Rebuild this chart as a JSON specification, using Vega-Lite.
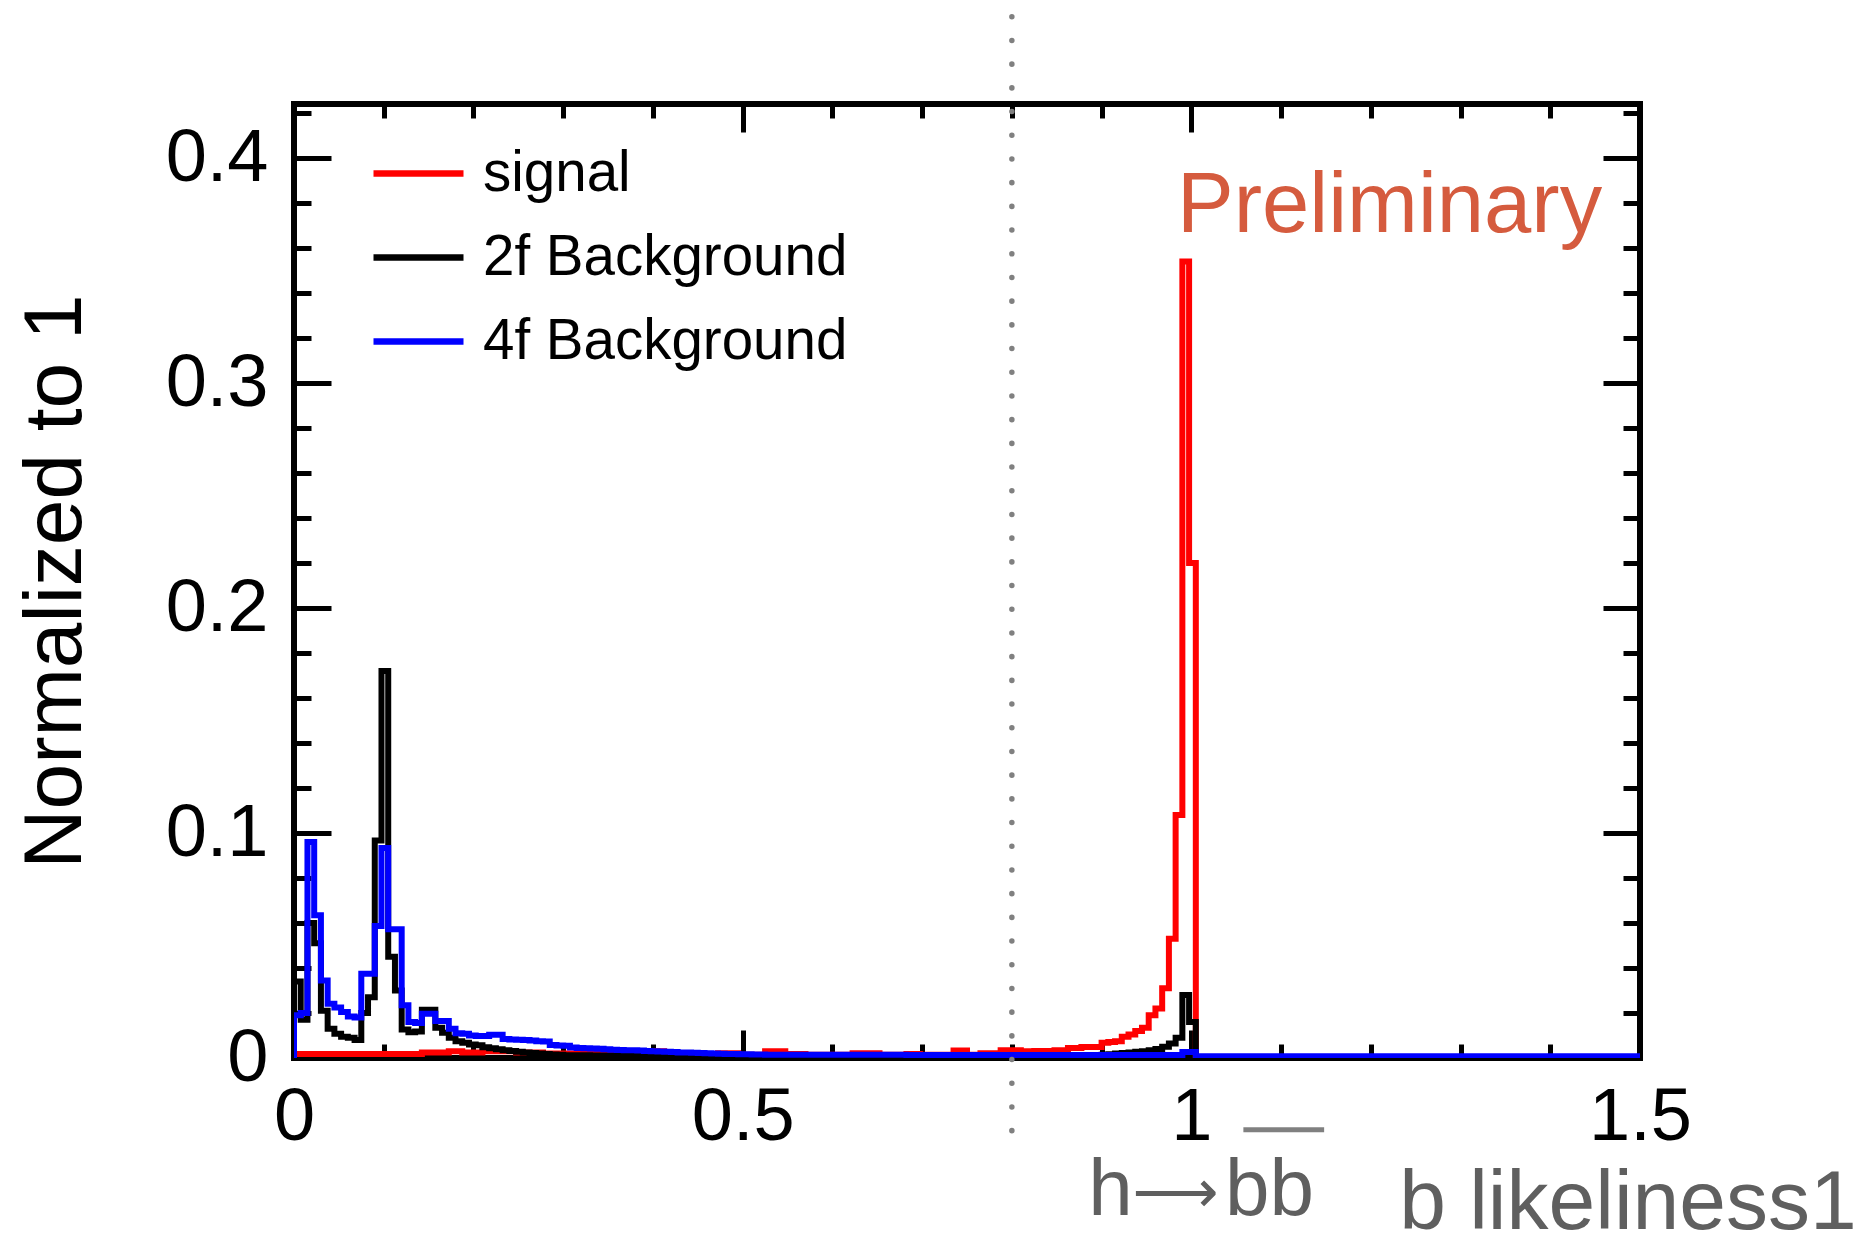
{
  "$schema": "https://vega.github.io/schema/vega-lite/v6.json",
  "width": 1346,
  "height": 954,
  "autosize": {"type": "none"},
  "padding": {"left": 294, "top": 104, "right": 219, "bottom": 190},
  "background": "white",
  "config": {
    "view": {"stroke": "black", "strokeWidth": 6},
    "font": "Liberation Sans",
    "axis": {
      "domain": false, "grid": false, "tickColor": "black", "tickWidth": 5,
      "labelColor": "black", "labelFont": "Liberation Sans", "labelFontSize": 74,
      "labelFlush": false, "labelOverlap": false, "labelBound": false
    }
  },
  "resolve": {"axis": {"x": "independent", "y": "independent"}},
  "data": {"values": [
    {"x":0,"sig":0,"bg2f":0,"bg4f":0},
    {"x":0,"sig":0.0018,"bg2f":0.034,"bg4f":0.019},
    {"x":0.0075,"sig":0.0018,"bg2f":0.017,"bg4f":0.02},
    {"x":0.015,"sig":0.0018,"bg2f":0.06,"bg4f":0.096},
    {"x":0.0225,"sig":0.0018,"bg2f":0.051,"bg4f":0.0634},
    {"x":0.03,"sig":0.0018,"bg2f":0.021,"bg4f":0.0345},
    {"x":0.0375,"sig":0.0018,"bg2f":0.013,"bg4f":0.0241},
    {"x":0.045,"sig":0.0018,"bg2f":0.0108,"bg4f":0.0225},
    {"x":0.0525,"sig":0.0018,"bg2f":0.0095,"bg4f":0.0205},
    {"x":0.06,"sig":0.0018,"bg2f":0.009,"bg4f":0.0185},
    {"x":0.0675,"sig":0.0018,"bg2f":0.008,"bg4f":0.018},
    {"x":0.075,"sig":0.0018,"bg2f":0.02,"bg4f":0.0375},
    {"x":0.0825,"sig":0.0018,"bg2f":0.027,"bg4f":0.0375},
    {"x":0.09,"sig":0.0018,"bg2f":0.0967,"bg4f":0.0587},
    {"x":0.0975,"sig":0.0018,"bg2f":0.172,"bg4f":0.0933},
    {"x":0.105,"sig":0.0018,"bg2f":0.045,"bg4f":0.0572},
    {"x":0.1125,"sig":0.0018,"bg2f":0.03,"bg4f":0.0572},
    {"x":0.12,"sig":0.0018,"bg2f":0.0127,"bg4f":0.0234},
    {"x":0.1275,"sig":0.0018,"bg2f":0.0115,"bg4f":0.016},
    {"x":0.135,"sig":0.0018,"bg2f":0.0118,"bg4f":0.0156},
    {"x":0.1425,"sig":0.0024,"bg2f":0.0215,"bg4f":0.0197},
    {"x":0.15,"sig":0.0024,"bg2f":0.0215,"bg4f":0.0197},
    {"x":0.1575,"sig":0.0024,"bg2f":0.0135,"bg4f":0.0164},
    {"x":0.165,"sig":0.0024,"bg2f":0.0112,"bg4f":0.0164},
    {"x":0.1725,"sig":0.003,"bg2f":0.009,"bg4f":0.013},
    {"x":0.18,"sig":0.003,"bg2f":0.0075,"bg4f":0.011},
    {"x":0.1875,"sig":0.0025,"bg2f":0.0068,"bg4f":0.0108},
    {"x":0.195,"sig":0.0025,"bg2f":0.006,"bg4f":0.01},
    {"x":0.2025,"sig":0.0025,"bg2f":0.0057,"bg4f":0.0098},
    {"x":0.21,"sig":0.003,"bg2f":0.0048,"bg4f":0.0098},
    {"x":0.2175,"sig":0.003,"bg2f":0.0043,"bg4f":0.0103},
    {"x":0.225,"sig":0.003,"bg2f":0.0039,"bg4f":0.0103},
    {"x":0.2325,"sig":0.003,"bg2f":0.0035,"bg4f":0.0084},
    {"x":0.24,"sig":0.003,"bg2f":0.0031,"bg4f":0.0082},
    {"x":0.2475,"sig":0.0025,"bg2f":0.0028,"bg4f":0.0081},
    {"x":0.255,"sig":0.0025,"bg2f":0.0025,"bg4f":0.008},
    {"x":0.2625,"sig":0.0025,"bg2f":0.0022,"bg4f":0.0078},
    {"x":0.27,"sig":0.0025,"bg2f":0.002,"bg4f":0.0075},
    {"x":0.2775,"sig":0.002,"bg2f":0.0018,"bg4f":0.0073},
    {"x":0.285,"sig":0.002,"bg2f":0.0016,"bg4f":0.0058},
    {"x":0.2925,"sig":0.002,"bg2f":0.0014,"bg4f":0.0056},
    {"x":0.3,"sig":0.002,"bg2f":0.0012,"bg4f":0.0054},
    {"x":0.3075,"sig":0.002,"bg2f":0.0012,"bg4f":0.0047},
    {"x":0.315,"sig":0.002,"bg2f":0.0012,"bg4f":0.0045},
    {"x":0.3225,"sig":0.002,"bg2f":0.0012,"bg4f":0.0043},
    {"x":0.33,"sig":0.002,"bg2f":0.0011,"bg4f":0.0042},
    {"x":0.3375,"sig":0.002,"bg2f":0.0011,"bg4f":0.0041},
    {"x":0.345,"sig":0.0015,"bg2f":0.0011,"bg4f":0.0039},
    {"x":0.3525,"sig":0.0015,"bg2f":0.0011,"bg4f":0.0037},
    {"x":0.36,"sig":0.0015,"bg2f":0.001,"bg4f":0.0036},
    {"x":0.3675,"sig":0.0015,"bg2f":0.001,"bg4f":0.0035},
    {"x":0.375,"sig":0.0015,"bg2f":0.001,"bg4f":0.0034},
    {"x":0.3825,"sig":0.0015,"bg2f":0.001,"bg4f":0.0033},
    {"x":0.39,"sig":0.003,"bg2f":0.001,"bg4f":0.0031},
    {"x":0.3975,"sig":0.003,"bg2f":0.001,"bg4f":0.003},
    {"x":0.405,"sig":0.003,"bg2f":0.001,"bg4f":0.0029},
    {"x":0.4125,"sig":0.0015,"bg2f":0.001,"bg4f":0.0028},
    {"x":0.42,"sig":0.0015,"bg2f":0.001,"bg4f":0.0027},
    {"x":0.4275,"sig":0.0015,"bg2f":0.0009,"bg4f":0.0025},
    {"x":0.435,"sig":0.0015,"bg2f":0.0009,"bg4f":0.0024},
    {"x":0.4425,"sig":0.0015,"bg2f":0.0009,"bg4f":0.0023},
    {"x":0.45,"sig":0.0015,"bg2f":0.0008,"bg4f":0.0022},
    {"x":0.4575,"sig":0.0015,"bg2f":0.0008,"bg4f":0.0021},
    {"x":0.465,"sig":0.0015,"bg2f":0.0008,"bg4f":0.002},
    {"x":0.4725,"sig":0.0021,"bg2f":0.0008,"bg4f":0.0019},
    {"x":0.48,"sig":0.0021,"bg2f":0.0008,"bg4f":0.0018},
    {"x":0.4875,"sig":0.0021,"bg2f":0.0008,"bg4f":0.0018},
    {"x":0.495,"sig":0.0015,"bg2f":0.0008,"bg4f":0.0017},
    {"x":0.5025,"sig":0.0015,"bg2f":0.0008,"bg4f":0.0017},
    {"x":0.51,"sig":0.0015,"bg2f":0.0008,"bg4f":0.0016},
    {"x":0.5175,"sig":0.0015,"bg2f":0.0008,"bg4f":0.0016},
    {"x":0.525,"sig":0.003,"bg2f":0.0008,"bg4f":0.0015},
    {"x":0.5325,"sig":0.003,"bg2f":0.0008,"bg4f":0.0015},
    {"x":0.54,"sig":0.003,"bg2f":0.0008,"bg4f":0.0014},
    {"x":0.5475,"sig":0.0018,"bg2f":0.0008,"bg4f":0.0014},
    {"x":0.555,"sig":0.0018,"bg2f":0.0008,"bg4f":0.0014},
    {"x":0.5625,"sig":0.0018,"bg2f":0.0008,"bg4f":0.0014},
    {"x":0.57,"sig":0.0015,"bg2f":0.0008,"bg4f":0.0014},
    {"x":0.5775,"sig":0.0015,"bg2f":0.0008,"bg4f":0.0014},
    {"x":0.585,"sig":0.0015,"bg2f":0.0008,"bg4f":0.0014},
    {"x":0.5925,"sig":0.0015,"bg2f":0.0008,"bg4f":0.0014},
    {"x":0.6,"sig":0.0015,"bg2f":0.0008,"bg4f":0.0014},
    {"x":0.6075,"sig":0.0015,"bg2f":0.0008,"bg4f":0.0014},
    {"x":0.615,"sig":0.0015,"bg2f":0.0008,"bg4f":0.0014},
    {"x":0.6225,"sig":0.0021,"bg2f":0.0008,"bg4f":0.0014},
    {"x":0.63,"sig":0.0021,"bg2f":0.0008,"bg4f":0.0014},
    {"x":0.6375,"sig":0.0021,"bg2f":0.0008,"bg4f":0.0014},
    {"x":0.645,"sig":0.0021,"bg2f":0.0008,"bg4f":0.0014},
    {"x":0.6525,"sig":0.0015,"bg2f":0.0008,"bg4f":0.0014},
    {"x":0.66,"sig":0.0015,"bg2f":0.0008,"bg4f":0.0014},
    {"x":0.6675,"sig":0.0015,"bg2f":0.0008,"bg4f":0.0014},
    {"x":0.675,"sig":0.0015,"bg2f":0.0008,"bg4f":0.0014},
    {"x":0.6825,"sig":0.0018,"bg2f":0.0008,"bg4f":0.0013},
    {"x":0.69,"sig":0.0018,"bg2f":0.0008,"bg4f":0.0013},
    {"x":0.6975,"sig":0.0015,"bg2f":0.0008,"bg4f":0.0013},
    {"x":0.705,"sig":0.0015,"bg2f":0.0008,"bg4f":0.0013},
    {"x":0.7125,"sig":0.0015,"bg2f":0.0008,"bg4f":0.0013},
    {"x":0.72,"sig":0.0015,"bg2f":0.0008,"bg4f":0.0013},
    {"x":0.7275,"sig":0.0015,"bg2f":0.0008,"bg4f":0.0013},
    {"x":0.735,"sig":0.0033,"bg2f":0.0008,"bg4f":0.0013},
    {"x":0.7425,"sig":0.0033,"bg2f":0.0008,"bg4f":0.0013},
    {"x":0.75,"sig":0.0015,"bg2f":0.0008,"bg4f":0.0013},
    {"x":0.7575,"sig":0.0015,"bg2f":0.0008,"bg4f":0.0013},
    {"x":0.765,"sig":0.0021,"bg2f":0.0008,"bg4f":0.0013},
    {"x":0.7725,"sig":0.0021,"bg2f":0.0008,"bg4f":0.0013},
    {"x":0.78,"sig":0.0021,"bg2f":0.0008,"bg4f":0.0013},
    {"x":0.7875,"sig":0.0035,"bg2f":0.001,"bg4f":0.0013},
    {"x":0.795,"sig":0.0035,"bg2f":0.001,"bg4f":0.0013},
    {"x":0.8025,"sig":0.0035,"bg2f":0.001,"bg4f":0.0013},
    {"x":0.81,"sig":0.003,"bg2f":0.001,"bg4f":0.0013},
    {"x":0.8175,"sig":0.003,"bg2f":0.001,"bg4f":0.0013},
    {"x":0.825,"sig":0.0031,"bg2f":0.001,"bg4f":0.0013},
    {"x":0.8325,"sig":0.0031,"bg2f":0.001,"bg4f":0.0013},
    {"x":0.84,"sig":0.0031,"bg2f":0.001,"bg4f":0.0013},
    {"x":0.8475,"sig":0.0035,"bg2f":0.001,"bg4f":0.0013},
    {"x":0.855,"sig":0.0035,"bg2f":0.001,"bg4f":0.0013},
    {"x":0.8625,"sig":0.0044,"bg2f":0.001,"bg4f":0.0013},
    {"x":0.87,"sig":0.0044,"bg2f":0.001,"bg4f":0.0013},
    {"x":0.8775,"sig":0.0049,"bg2f":0.001,"bg4f":0.0013},
    {"x":0.885,"sig":0.0049,"bg2f":0.001,"bg4f":0.0013},
    {"x":0.8925,"sig":0.0049,"bg2f":0.001,"bg4f":0.0013},
    {"x":0.9,"sig":0.0068,"bg2f":0.0015,"bg4f":0.0013},
    {"x":0.9075,"sig":0.0071,"bg2f":0.0017,"bg4f":0.0013},
    {"x":0.915,"sig":0.0075,"bg2f":0.002,"bg4f":0.0013},
    {"x":0.9225,"sig":0.0095,"bg2f":0.0022,"bg4f":0.0013},
    {"x":0.93,"sig":0.0105,"bg2f":0.0025,"bg4f":0.0013},
    {"x":0.9375,"sig":0.012,"bg2f":0.0028,"bg4f":0.0013},
    {"x":0.945,"sig":0.0135,"bg2f":0.003,"bg4f":0.0013},
    {"x":0.9525,"sig":0.019,"bg2f":0.0035,"bg4f":0.0013},
    {"x":0.96,"sig":0.022,"bg2f":0.004,"bg4f":0.0013},
    {"x":0.9675,"sig":0.031,"bg2f":0.005,"bg4f":0.0013},
    {"x":0.975,"sig":0.053,"bg2f":0.0065,"bg4f":0.0013},
    {"x":0.9825,"sig":0.108,"bg2f":0.009,"bg4f":0.0013},
    {"x":0.99,"sig":0.354,"bg2f":0.028,"bg4f":0.0027},
    {"x":0.9975,"sig":0.22,"bg2f":0.016,"bg4f":0.0027},
    {"x":1.005,"sig":0,"bg2f":0,"bg4f":0.0008},
    {"x":1.0125,"sig":0,"bg2f":0,"bg4f":0.0008},
    {"x":1.02,"sig":0,"bg2f":0,"bg4f":0.0008},
    {"x":1.0275,"sig":0,"bg2f":0,"bg4f":0.0008},
    {"x":1.035,"sig":0,"bg2f":0,"bg4f":0.0008},
    {"x":1.0425,"sig":0,"bg2f":0,"bg4f":0.0008},
    {"x":1.05,"sig":0,"bg2f":0,"bg4f":0.0008},
    {"x":1.0575,"sig":0,"bg2f":0,"bg4f":0.0008},
    {"x":1.065,"sig":0,"bg2f":0,"bg4f":0.0008},
    {"x":1.0725,"sig":0,"bg2f":0,"bg4f":0.0008},
    {"x":1.08,"sig":0,"bg2f":0,"bg4f":0.0008},
    {"x":1.0875,"sig":0,"bg2f":0,"bg4f":0.0008},
    {"x":1.095,"sig":0,"bg2f":0,"bg4f":0.0008},
    {"x":1.1025,"sig":0,"bg2f":0,"bg4f":0.0008},
    {"x":1.11,"sig":0,"bg2f":0,"bg4f":0.0008},
    {"x":1.1175,"sig":0,"bg2f":0,"bg4f":0.0008},
    {"x":1.125,"sig":0,"bg2f":0,"bg4f":0.0008},
    {"x":1.1325,"sig":0,"bg2f":0,"bg4f":0.0008},
    {"x":1.14,"sig":0,"bg2f":0,"bg4f":0.0008},
    {"x":1.1475,"sig":0,"bg2f":0,"bg4f":0.0008},
    {"x":1.155,"sig":0,"bg2f":0,"bg4f":0.0008},
    {"x":1.1625,"sig":0,"bg2f":0,"bg4f":0.0008},
    {"x":1.17,"sig":0,"bg2f":0,"bg4f":0.0008},
    {"x":1.1775,"sig":0,"bg2f":0,"bg4f":0.0008},
    {"x":1.185,"sig":0,"bg2f":0,"bg4f":0.0008},
    {"x":1.1925,"sig":0,"bg2f":0,"bg4f":0.0008},
    {"x":1.2,"sig":0,"bg2f":0,"bg4f":0.0008},
    {"x":1.2075,"sig":0,"bg2f":0,"bg4f":0.0008},
    {"x":1.215,"sig":0,"bg2f":0,"bg4f":0.0008},
    {"x":1.2225,"sig":0,"bg2f":0,"bg4f":0.0008},
    {"x":1.23,"sig":0,"bg2f":0,"bg4f":0.0008},
    {"x":1.2375,"sig":0,"bg2f":0,"bg4f":0.0008},
    {"x":1.245,"sig":0,"bg2f":0,"bg4f":0.0008},
    {"x":1.2525,"sig":0,"bg2f":0,"bg4f":0.0008},
    {"x":1.26,"sig":0,"bg2f":0,"bg4f":0.0008},
    {"x":1.2675,"sig":0,"bg2f":0,"bg4f":0.0008},
    {"x":1.275,"sig":0,"bg2f":0,"bg4f":0.0008},
    {"x":1.2825,"sig":0,"bg2f":0,"bg4f":0.0008},
    {"x":1.29,"sig":0,"bg2f":0,"bg4f":0.0008},
    {"x":1.2975,"sig":0,"bg2f":0,"bg4f":0.0008},
    {"x":1.305,"sig":0,"bg2f":0,"bg4f":0.0008},
    {"x":1.3125,"sig":0,"bg2f":0,"bg4f":0.0008},
    {"x":1.32,"sig":0,"bg2f":0,"bg4f":0.0008},
    {"x":1.3275,"sig":0,"bg2f":0,"bg4f":0.0008},
    {"x":1.335,"sig":0,"bg2f":0,"bg4f":0.0008},
    {"x":1.3425,"sig":0,"bg2f":0,"bg4f":0.0008},
    {"x":1.35,"sig":0,"bg2f":0,"bg4f":0.0008},
    {"x":1.3575,"sig":0,"bg2f":0,"bg4f":0.0008},
    {"x":1.365,"sig":0,"bg2f":0,"bg4f":0.0008},
    {"x":1.3725,"sig":0,"bg2f":0,"bg4f":0.0008},
    {"x":1.38,"sig":0,"bg2f":0,"bg4f":0.0008},
    {"x":1.3875,"sig":0,"bg2f":0,"bg4f":0.0008},
    {"x":1.395,"sig":0,"bg2f":0,"bg4f":0.0008},
    {"x":1.4025,"sig":0,"bg2f":0,"bg4f":0.0008},
    {"x":1.41,"sig":0,"bg2f":0,"bg4f":0.0008},
    {"x":1.4175,"sig":0,"bg2f":0,"bg4f":0.0008},
    {"x":1.425,"sig":0,"bg2f":0,"bg4f":0.0008},
    {"x":1.4325,"sig":0,"bg2f":0,"bg4f":0.0008},
    {"x":1.44,"sig":0,"bg2f":0,"bg4f":0.0008},
    {"x":1.4475,"sig":0,"bg2f":0,"bg4f":0.0008},
    {"x":1.455,"sig":0,"bg2f":0,"bg4f":0.0008},
    {"x":1.4625,"sig":0,"bg2f":0,"bg4f":0.0008},
    {"x":1.47,"sig":0,"bg2f":0,"bg4f":0.0008},
    {"x":1.4775,"sig":0,"bg2f":0,"bg4f":0.0008},
    {"x":1.485,"sig":0,"bg2f":0,"bg4f":0.0008},
    {"x":1.4925,"sig":0,"bg2f":0,"bg4f":0.0008},
    {"x":1.5,"sig":0,"bg2f":0,"bg4f":0.0008}
  ]},
  "layer": [
    {
      "mark": {"type": "line", "interpolate": "step-after", "strokeWidth": 6, "clip": true},
      "encoding": {
        "x": {"field": "x", "type": "quantitative",
          "scale": {"domain": [0, 1.5], "nice": false, "zero": false},
          "axis": {"orient": "bottom", "values": [0, 0.5, 1, 1.5], "tickSize": -28, "labelPadding": 51, "format": "~g", "title": null}},
        "y": {"field": "sig", "type": "quantitative",
          "scale": {"domain": [0, 0.424], "nice": false, "zero": false},
          "axis": {"orient": "left", "values": [0, 0.1, 0.2, 0.3, 0.4], "tickSize": -37, "labelPadding": 63, "format": "~g",
            "title": "Normalized to 1", "titleFont": "Liberation Sans", "titleFontSize": 82, "titleFontWeight": "normal", "titleColor": "black", "titlePadding": 68}},
        "color": {"datum": "signal", "type": "nominal",
          "scale": {"domain": ["signal", "2f Background", "4f Background"], "range": ["#ff0000", "#000000", "#0000ff"]},
          "legend": {"orient": "none", "legendX": 76, "legendY": 21, "title": null, "padding": 0,
            "symbolType": "stroke", "symbolSize": 8100, "symbolStrokeWidth": 6.5,
            "labelFont": "Liberation Sans", "labelFontSize": 56.5, "labelColor": "black", "labelOffset": 16, "labelLimit": 0, "rowPadding": 7}},
        "order": {"value": null}
      }
    },
    {
      "mark": {"type": "line", "interpolate": "step-after", "strokeWidth": 6, "clip": true},
      "encoding": {
        "x": {"field": "x", "type": "quantitative",
          "axis": {"orient": "bottom", "values": [0.1, 0.2, 0.3, 0.4, 0.6, 0.7, 0.8, 0.9, 1.1, 1.2, 1.3, 1.4], "tickSize": -14, "labels": false, "title": null}},
        "y": {"field": "bg2f", "type": "quantitative",
          "axis": {"orient": "left", "values": [0.02, 0.04, 0.06, 0.08, 0.12, 0.14, 0.16, 0.18, 0.22, 0.24, 0.26, 0.28, 0.32, 0.34, 0.36, 0.38, 0.42], "tickSize": -17, "labels": false, "title": null}},
        "color": {"datum": "2f Background", "type": "nominal"},
        "order": {"value": null}
      }
    },
    {
      "mark": {"type": "line", "interpolate": "step-after", "strokeWidth": 6, "clip": true},
      "encoding": {
        "x": {"field": "x", "type": "quantitative",
          "axis": {"orient": "top", "values": [0, 0.5, 1, 1.5], "tickSize": -28, "labels": false, "title": null}},
        "y": {"field": "bg4f", "type": "quantitative",
          "axis": {"orient": "right", "values": [0, 0.1, 0.2, 0.3, 0.4], "tickSize": -37, "labels": false, "title": null}},
        "color": {"datum": "4f Background", "type": "nominal"},
        "order": {"value": null}
      }
    },
    {
      "data": {"values": [{"cut": 0.8}]},
      "mark": {"type": "rule", "color": "#808080", "strokeWidth": 5.5, "strokeDash": [0.1, 23.6], "strokeCap": "round"},
      "encoding": {
        "x": {"field": "cut", "type": "quantitative",
          "axis": {"orient": "top", "values": [0.1, 0.2, 0.3, 0.4, 0.6, 0.7, 0.8, 0.9, 1.1, 1.2, 1.3, 1.4], "tickSize": -14, "labels": false, "title": null}},
        "y": {"datum": 0.4628, "type": "quantitative",
          "axis": {"orient": "right", "values": [0.02, 0.04, 0.06, 0.08, 0.12, 0.14, 0.16, 0.18, 0.22, 0.24, 0.26, 0.28, 0.32, 0.34, 0.36, 0.38, 0.42], "tickSize": -17, "labels": false, "title": null}},
        "y2": {"datum": -0.04}
      }
    },
    {
      "data": {"values": [{"label": "Preliminary"}]},
      "mark": {"type": "text", "align": "left", "baseline": "alphabetic", "font": "Liberation Sans", "fontSize": 85, "fill": "#d55b3e"},
      "encoding": {
        "x": {"datum": 0.9841, "type": "quantitative", "axis": null},
        "y": {"datum": 0.3671, "type": "quantitative", "axis": null},
        "text": {"field": "label"}
      }
    },
    {
      "data": {"values": [{"label": "h→bb"}]},
      "layer": [
        {
          "mark": {"type": "text", "align": "left", "baseline": "alphabetic", "font": "Liberation Sans", "fontSize": 80, "fill": "#5f5f5f"},
          "encoding": {
            "x": {"datum": 0.885, "type": "quantitative", "axis": null},
            "y": {"datum": -0.0698, "type": "quantitative", "axis": null},
            "text": {"value": "h"}
          }
        },
        {
          "mark": {"type": "text", "align": "center", "baseline": "alphabetic", "font": "DejaVu Sans", "fontSize": 60, "fill": "#5f5f5f"},
          "encoding": {
            "x": {"datum": 0.9824, "type": "quantitative", "axis": null},
            "y": {"datum": -0.0684, "type": "quantitative", "axis": null},
            "text": {"value": "⟶"}
          }
        },
        {
          "mark": {"type": "text", "align": "right", "baseline": "alphabetic", "font": "Liberation Sans", "fontSize": 80, "fill": "#5f5f5f"},
          "encoding": {
            "x": {"datum": 1.1367, "type": "quantitative", "axis": null},
            "y": {"datum": -0.0698, "type": "quantitative", "axis": null},
            "text": {"value": "bb"}
          }
        },
        {
          "mark": {"type": "rule", "color": "#808080", "strokeWidth": 5},
          "encoding": {
            "x": {"datum": 1.058, "type": "quantitative", "axis": null},
            "x2": {"datum": 1.148},
            "y": {"datum": -0.0319, "type": "quantitative", "axis": null}
          }
        }
      ]
    },
    {
      "data": {"values": [{"label": "b likeliness1"}]},
      "mark": {"type": "text", "align": "right", "baseline": "alphabetic", "font": "Liberation Sans", "fontSize": 84, "fill": "#5f5f5f"},
      "encoding": {
        "x": {"datum": 1.7415, "type": "quantitative", "axis": null},
        "y": {"datum": -0.0762, "type": "quantitative", "axis": null},
        "text": {"field": "label"}
      }
    }
  ]
}
